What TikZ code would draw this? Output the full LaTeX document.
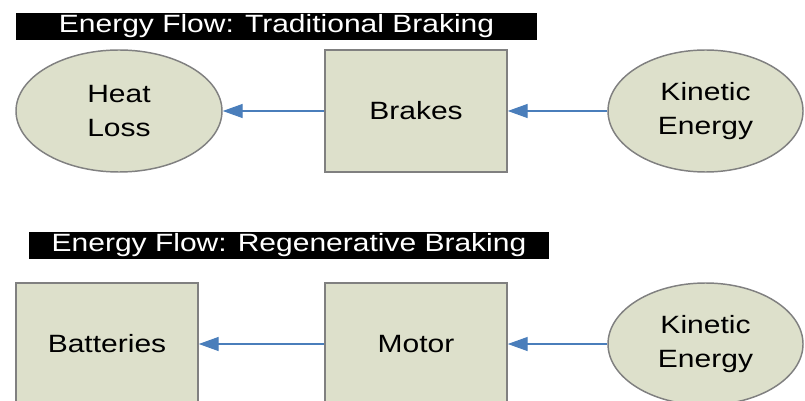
\documentclass[tikz,border=0pt]{standalone}
\usepackage{fontspec}
\setmainfont{Liberation Sans}[FakeStretch=1.2]
\usetikzlibrary{arrows.meta,shapes.geometric}
\definecolor{sage}{RGB}{221,224,203}
\definecolor{rim}{RGB}{128,128,128}
\definecolor{flow}{RGB}{74,126,187}

\begin{document}
\begin{tikzpicture}[
  x=0.75pt,
  y=0.75pt,
  banner/.style={fill=black, text=white, inner sep=0pt, minimum height=20.25pt, font=\fontsize{18.75}{22}\selectfont},
  stage/.style={draw=rim, line width=1.1pt, fill=sage, align=center, minimum width=136.5pt, minimum height=91.5pt, font=\fontsize{18.75}{26}\selectfont},
  energy/.style={ellipse, draw=rim, line width=1.1pt, fill=sage, align=center, inner sep=0pt, minimum height=91.5pt, font=\fontsize{18.75}{26}\selectfont},
  arr/.style={-{Triangle[length=15pt,width=10.5pt]}, draw=flow, line width=1.1pt}
]
\clip (0,0) rectangle (805,400);

\node[banner, minimum width=390.75pt] (title1) at (276.5,373.5) {Energy Flow: Traditional Braking};
\node[energy, minimum width=154.5pt] (heat) at (119,289) {Heat\\Loss};
\node[stage] (brakes) at (416,289) {Brakes};
\node[energy, minimum width=146.25pt] (kin1) at (705.5,289) {Kinetic\\Energy};

\node[banner, minimum width=390pt] (title2) at (289,154.5) {Energy Flow: Regenerative Braking};
\node[stage] (batt) at (107,56) {Batteries};
\node[stage] (motor) at (416,56) {Motor};
\node[energy, minimum width=146.25pt] (kin2) at (705.5,56) {Kinetic\\Energy};

\draw[arr] (kin1) -- (brakes);
\draw[arr] (brakes) -- (heat);
\draw[arr] (kin2) -- (motor);
\draw[arr] (motor) -- (batt);

\end{tikzpicture}
\end{document}
